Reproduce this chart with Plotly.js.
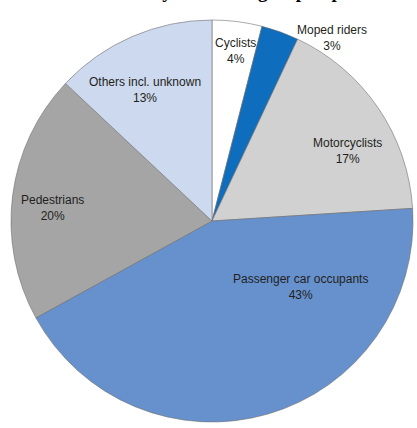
<!DOCTYPE html>
<html>
<head>
<meta charset="utf-8">
<script src="https://cdn.plot.ly/plotly-3.0.1.min.js"></script>
<style>
html,body{margin:0;padding:0;background:#fff;}
#chart{width:417px;height:428px;}
</style>
</head>
<body>
<div id="chart"></div>
<script>
// ---- data ----
const titleText = 'Road deaths by road user group in per cent';
const categories = ['Cyclists', 'Moped riders', 'Motorcyclists', 'Passenger car occupants', 'Pedestrians', 'Others incl. unknown'];
const shares = [4, 3, 17, 43, 20, 13];

// ---- style ----
const sliceColors = ['#ffffff', '#0f6dbd', '#d1d1d1', '#6691cd', '#a5a5a5', '#cdd9ee'];
// label block centres, in pixels (layout styling only)
const labelPix = [[235, 51], [332, 38], [347, 151], [300, 287], [52, 208], [145, 90]];

const W = 417, H = 428;
const M = {l: 11, r: 4, t: 20, b: 6};
const PW = W - M.l - M.r, PH = H - M.t - M.b;
const px2x = p => (p - M.l) / PW;
const px2y = p => 1 - (p - M.t) / PH;

const annotations = categories.map((c, i) => ({
  xref: 'paper', yref: 'paper',
  x: px2x(labelPix[i][0]), y: px2y(labelPix[i][1]),
  xanchor: 'center', yanchor: 'middle',
  text: c + '<br>' + shares[i] + '%',
  showarrow: false,
  font: {family: 'Liberation Sans, Arial, sans-serif', size: 12, color: '#231f20'},
  align: 'center'
}));

annotations.push({
  xref: 'paper', yref: 'paper',
  x: px2x(44), y: px2y(3.6),
  xanchor: 'left', yanchor: 'bottom',
  text: '<b>' + titleText + '</b>',
  showarrow: false,
  font: {family: 'Liberation Serif, serif', size: 19, color: '#000000'}
});

const trace = {
  type: 'pie',
  labels: categories,
  values: shares,
  sort: false,
  direction: 'clockwise',
  rotation: 0,
  textinfo: 'none',
  hoverinfo: 'label+percent',
  marker: {colors: sliceColors, line: {color: '#6e6e6e', width: 0.6}},
  showlegend: false
};

const layout = {
  width: W, height: H,
  margin: M,
  paper_bgcolor: '#ffffff',
  plot_bgcolor: '#ffffff',
  showlegend: false,
  annotations: annotations
};

Plotly.newPlot('chart', [trace], layout, {staticPlot: true, displayModeBar: false});
</script>
</body>
</html>
